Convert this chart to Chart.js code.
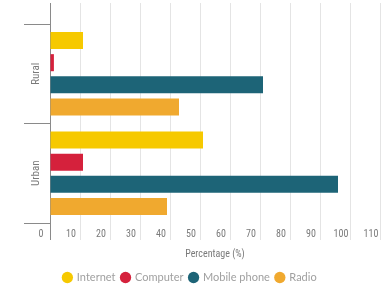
<!DOCTYPE html>
<html>
<head>
<meta charset="utf-8">
<script src="https://cdn.jsdelivr.net/npm/chart.js@4/dist/chart.umd.min.js"></script>
<style>
  html, body { margin: 0; padding: 0; background: #fff; }
  #wrap { width: 384px; height: 287px; }
</style>
</head>
<body>
<div id="wrap"><canvas id="accessChart"></canvas></div>
<script>
const areas = ['Rural', 'Urban'];
const internet = [11, 51];
const computer = [1.3, 11];
const mobilePhone = [71, 96];
const radio = [43, 39];
const xTicks = [0, 10, 20, 30, 40, 50, 60, 70, 80, 90, 100, 110];

const font = "'Liberation Sans Narrow', 'Roboto Condensed', Lato, sans-serif";
const gridColor = (c) => (c.tick && c.tick.value === 0) ? '#8a8a8a' : '#e4e4e4';

const ctx = document.getElementById('accessChart').getContext('2d');
const accessChart = new Chart(ctx, {
    type: 'bar',
    data: {
        labels: areas,
        datasets: [
            { label: 'Internet', data: internet, backgroundColor: '#f6c900' },
            { label: 'Computer', data: computer, backgroundColor: '#d5213c' },
            { label: 'Mobile phone', data: mobilePhone, backgroundColor: '#1d6477' },
            { label: 'Radio', data: radio, backgroundColor: '#f0a92f' }
        ]
    },
    options: {
        indexAxis: 'y',
        responsive: true,
        maintainAspectRatio: false,
        animation: false,
        layout: { padding: { top: 3, right: 4, left: 0, bottom: -6 } },
        datasets: {
            bar: { categoryPercentage: 0.89, barPercentage: 0.77 }
        },
        plugins: {
            legend: {
                position: 'bottom',
                labels: {
                    color: '#a0a0a0',
                    font: { family: 'Lato, sans-serif', size: 11 },
                    usePointStyle: true,
                    pointStyle: 'circle',
                    boxWidth: 8,
                    boxHeight: 8,
                    padding: 6
                }
            },
            tooltip: { enabled: false }
        },
        scales: {
            x: {
                min: 0,
                max: 110,
                afterBuildTicks: (s) => { s.ticks = xTicks.map(v => ({ value: v })); },
                grid: { color: gridColor, tickLength: 17 },
                border: { display: false },
                ticks: {
                    color: '#7a7a7a',
                    font: { family: font, size: 10 },
                    padding: -12,
                    labelOffset: -9
                },
                title: {
                    display: true,
                    text: 'Percentage (%)',
                    color: '#7a7a7a',
                    font: { family: font, size: 10 },
                    padding: { top: 20, bottom: 6 }
                }
            },
            xTop: {
                position: 'top',
                min: 0,
                max: 110,
                afterBuildTicks: (s) => { s.ticks = xTicks.map(v => ({ value: v })); },
                grid: { color: gridColor, tickLength: 21, drawOnChartArea: false },
                border: { display: false },
                ticks: { display: false }
            },
            y: {
                grid: { offset: true, drawOnChartArea: false, tickLength: 26, color: '#8a8a8a' },
                border: { color: '#8a8a8a' },
                ticks: {
                    color: '#7a7a7a',
                    font: { family: font, size: 11 },
                    minRotation: 90,
                    maxRotation: 90,
                    crossAlign: 'center',
                    padding: -25
                },
                afterFit: (s) => { s.width = 50; }
            }
        }
    }
});
</script>
</body>
</html>
